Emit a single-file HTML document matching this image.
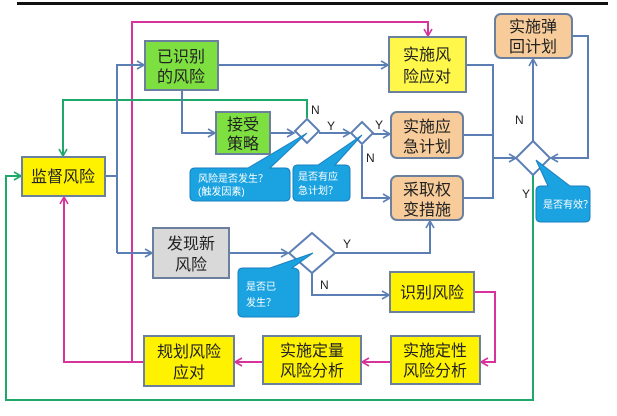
<!DOCTYPE html>
<html><head><meta charset="utf-8"><style>
body{margin:0;background:#fff}
svg text{font-family:"Liberation Sans","Noto Sans CJK SC",sans-serif}
</style></head><body>
<svg width="617" height="411" viewBox="0 0 617 411" xmlns="http://www.w3.org/2000/svg">
<defs>
<marker id="ab" markerWidth="10" markerHeight="10" refX="8" refY="5" orient="auto" markerUnits="userSpaceOnUse"><path d="M1,1 L8,5 L1,9" fill="none" stroke="#5b7fb5" stroke-width="1.6"/></marker>
<marker id="ap" markerWidth="10" markerHeight="10" refX="8" refY="5" orient="auto" markerUnits="userSpaceOnUse"><path d="M1,1 L8,5 L1,9" fill="none" stroke="#d6339b" stroke-width="1.6"/></marker>
<marker id="ag" markerWidth="10" markerHeight="10" refX="8" refY="5" orient="auto" markerUnits="userSpaceOnUse"><path d="M1,1 L8,5 L1,9" fill="none" stroke="#1ea86a" stroke-width="1.6"/></marker>
</defs>
<rect x="17" y="2" width="591" height="3" fill="#111"/>
<g fill="none" stroke-width="2">
<polyline points="132,362 132,22 428,22 428,36" stroke="#d6339b" marker-end="url(#ap)"/>
<polyline points="144,362 64,362 64,197" stroke="#d6339b" marker-end="url(#ap)"/>
<polyline points="474,292 495,292 495,362 481,362" stroke="#d6339b" marker-end="url(#ap)"/>
<line x1="391" y1="362" x2="362" y2="362" stroke="#d6339b" marker-end="url(#ap)"/>
<line x1="263" y1="362" x2="235" y2="362" stroke="#d6339b" marker-end="url(#ap)"/>
<polyline points="533,175 533,400 6,400 6,176 21,176" stroke="#1ea86a" marker-end="url(#ag)"/>
<polyline points="307,118 307,100 63,100 63,156" stroke="#1ea86a" marker-end="url(#ag)"/>
<g stroke="#5b7fb5">
<polyline points="105,176 117,176"/>
<polyline points="117,253 117,65 144,65" marker-end="url(#ab)"/>
<line x1="117" y1="253" x2="152" y2="253" marker-end="url(#ab)"/>
<line x1="218" y1="65" x2="388" y2="65" marker-end="url(#ab)"/>
<polyline points="182,90 182,133 215,133" marker-end="url(#ab)"/>
<line x1="270" y1="133" x2="294" y2="133" marker-end="url(#ab)"/>
<line x1="319" y1="133" x2="350" y2="133" marker-end="url(#ab)"/>
<line x1="373" y1="134" x2="390" y2="134" marker-end="url(#ab)"/>
<polyline points="362,145 362,198 390,198" marker-end="url(#ab)"/>
<polyline points="466,65 493,65 493,198 463,198"/>
<line x1="463" y1="135" x2="493" y2="135"/>
<line x1="493" y1="158" x2="516" y2="158" marker-end="url(#ab)"/>
<line x1="533" y1="141" x2="533" y2="59" marker-end="url(#ab)"/>
<polyline points="572,36 588,36 588,158 551,158" marker-end="url(#ab)"/>
<line x1="229" y1="253" x2="288" y2="253" marker-end="url(#ab)"/>
<polyline points="335,253 430,253 430,221" marker-end="url(#ab)"/>
<polyline points="312,273 312,295 389,295" marker-end="url(#ab)"/>
</g>
</g>
<g fill="#fff" stroke="#5b7fb5" stroke-width="2">
<polygon points="307,119 319,131 307,143 295,131"/>
<polygon points="362,122 373,133 362,144 351,133"/>
<polygon points="533,141 550,158 533,175 516,158"/>
<polygon points="312,233 335,253 312,273 289,253"/>
</g>
<g fill="#1aa3e0" stroke="#1b7fc0" stroke-width="1">
<path d="M200,168 L248,168 L307,133 L270,168 L285,168 Q290,168 290,173 L290,196 Q290,201 285,201 L195,201 Q190,201 190,196 L190,173 Q190,168 195,168 Z"/>
<path d="M298,165 L318,165 L362,135 L335,165 L345,165 Q350,165 350,170 L350,196 Q350,201 345,201 L298,201 Q293,201 293,196 L293,170 Q293,165 298,165 Z"/>
<path d="M541,186 L548,186 L536,160 L570,186 L585,186 Q590,186 590,191 L590,217 Q590,222 585,222 L541,222 Q536,222 536,217 L536,191 Q536,186 541,186 Z"/>
<path d="M243,268 L270,268 L313,253 L292,268 Q299,268 299,273 L299,312 Q299,317 294,317 L243,317 Q238,317 238,312 L238,273 Q238,268 243,268 Z"/>
</g>
<g fill="#fff" font-size="10">
<text x="198" y="182">风险是否发生？</text><text x="198" y="195">(触发因素)</text>
<text x="298" y="180">是否有应</text><text x="298" y="194">急计划？</text>
<text x="543" y="208">是否有效？</text>
<text x="246" y="290">是否已</text><text x="246" y="306">发生？</text>
</g>
<g stroke="#6b7f9e" stroke-width="2">
<rect x="145" y="41" width="73" height="49" fill="#7ee040"/>
<rect x="216" y="112" width="54" height="42" fill="#7ee040"/>
<rect x="22" y="157" width="83" height="39" fill="#fff200"/>
<rect x="389" y="37" width="77" height="55" fill="#fff84a"/>
<rect x="391" y="112" width="72" height="46" rx="6" fill="#f8cc9a"/>
<rect x="391" y="176" width="72" height="44" rx="6" fill="#f8cc9a"/>
<rect x="495" y="14" width="77" height="44" rx="6" fill="#f8cc9a"/>
<rect x="153" y="228" width="76" height="50" fill="#d9d9d9"/>
<rect x="390" y="272" width="84" height="40" fill="#fff200"/>
<rect x="391" y="336" width="89" height="48" fill="#fff200"/>
<rect x="263" y="336" width="98" height="48" fill="#fff200"/>
<rect x="144" y="336" width="90" height="50" fill="#fff200"/>
</g>
<g font-size="16" fill="#222" text-anchor="middle">
<text x="181" y="62">已识别</text><text x="181" y="82">的风险</text>
<text x="243" y="130">接受</text><text x="243" y="149">策略</text>
<text x="63" y="182">监督风险</text>
<text x="427" y="60">实施风</text><text x="427" y="82">险应对</text>
<text x="427" y="132">实施应</text><text x="427" y="152">急计划</text>
<text x="427" y="195">采取权</text><text x="427" y="215">变措施</text>
<text x="533" y="32">实施弹</text><text x="533" y="52">回计划</text>
<text x="191" y="249">发现新</text><text x="191" y="270">风险</text>
<text x="432" y="298">识别风险</text>
<text x="435" y="356">实施定性</text><text x="435" y="376">风险分析</text>
<text x="312" y="356">实施定量</text><text x="312" y="376">风险分析</text>
<text x="189" y="357">规划风险</text><text x="189" y="378">应对</text>
</g>
<g font-size="12" fill="#222">
<text x="311" y="114">N</text><text x="327" y="130">Y</text>
<text x="375" y="129">Y</text><text x="366" y="162">N</text>
<text x="515" y="124">N</text><text x="522" y="198">Y</text>
<text x="343" y="248">Y</text><text x="320" y="289">N</text>
</g>
</svg>
</body></html>
